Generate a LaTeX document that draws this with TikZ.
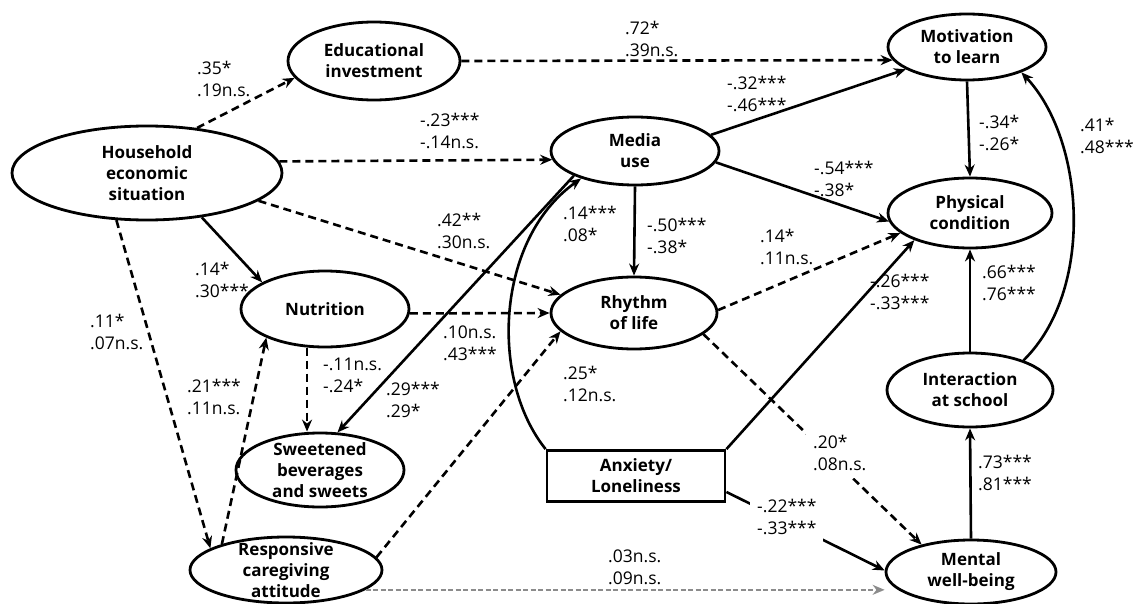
\documentclass[tikz,border=0pt]{standalone}
\usepackage{fontspec}
\setmainfont{Open Sans}
\usetikzlibrary{shapes.geometric,arrows.meta}

\begin{document}
\begin{tikzpicture}[x=1pt,y=-1pt,>={Stealth[length=12pt,width=10pt]}]

    \useasboundingbox (0,0) rectangle (1134,604);

    % Define node styles
    \tikzstyle{factor_block} = [draw, ellipse, line width=2.8pt, inner sep=0pt, align=center, font=\fontsize{17}{21}\selectfont\bfseries]
    \tikzstyle{factor_box} = [draw, rectangle, line width=2.8pt, inner sep=0pt, align=center, font=\fontsize{17}{21}\selectfont\bfseries]
    \tikzstyle{coef} = [inner sep=0pt, align=left, anchor=west, font=\fontsize{17.5}{22}\selectfont]
    \tikzstyle{coef_cut} = [coef, fill=white, inner sep=7pt]
    \tikzstyle{path_sig} = [->, line width=2.6pt]
    \tikzstyle{path_ns} = [->, line width=2.6pt, dash pattern=on 8pt off 5pt]
    \tikzstyle{path_weak} = [->, black!45, line width=1.8pt, dash pattern=on 5pt off 2.5pt]

    % Draw nodes
    \node [factor_block, minimum width=270, minimum height=94] (household_situation) at (147,173) {Household\\economic\\situation};
    \node [factor_block, minimum width=172, minimum height=78] (educational_investment) at (374,61) {Educational\\investment};
    \node [factor_block, minimum width=158, minimum height=66] (motivation_learn) at (967,47) {Motivation\\to learn};
    \node [factor_block, minimum width=168, minimum height=68] (media_use) at (635,151) {Media\\use};
    \node [factor_block, minimum width=164, minimum height=70] (physical_condition) at (970,213) {Physical\\condition};
    \node [factor_block, minimum width=168, minimum height=76] (nutrition) at (325,309) {Nutrition};
    \node [factor_block, minimum width=166, minimum height=72] (rhythm_life) at (634,313) {Rhythm\\of life};
    \node [factor_block, minimum width=168, minimum height=74, inner ysep=-8pt] (sweet_beverages) at (320,470) {Sweetened\\beverages\\and sweets};
    \node [factor_block, minimum width=192, minimum height=66, inner ysep=-10pt] (responsive_attitude) at (286,570) {Responsive\\caregiving\\attitude};
    \node [factor_box, minimum width=178, minimum height=51] (anxiety_loneliness) at (636,476) {Anxiety/\\Loneliness};
    \node [factor_block, minimum width=166, minimum height=74] (school_interaction) at (970,390) {Interaction\\at school};
    \node [factor_block, minimum width=170, minimum height=64] (mental_wellbeing) at (971,572) {Mental\\well-being};

    % Draw arrows
    \draw [path_ns] (household_situation.42) -- (educational_investment.192);
    \draw [path_ns] (educational_investment.east) -- (motivation_learn.190);
    \draw [path_ns] (household_situation.5) -- (media_use.186);
    \draw [path_ns] (household_situation.346) -- (rhythm_life.166);
    \draw [path_sig] (household_situation.321) -- (nutrition.157);
    \draw [path_ns] (household_situation.237) -- (responsive_attitude.164);
    \draw [path_ns] (responsive_attitude.158) -- (nutrition.206);
    \draw [path_ns] (nutrition.245) -- (nutrition.245 |- sweet_beverages.north);
    \draw [path_sig] (media_use.202) -- (sweet_beverages.65);
    \draw [path_sig] (anxiety_loneliness.north west) .. controls (490,380) and (495,240) .. (media_use.207);
    \draw [path_ns] (nutrition.357) -- (rhythm_life.west);
    \draw [path_sig] (media_use.south) -- (rhythm_life.north);
    \draw [path_sig] (media_use.12) -- (motivation_learn.200);
    \draw [path_sig] (media_use.352) -- (physical_condition.186);
    \draw [path_ns] (rhythm_life.2) -- (physical_condition.196);
    \draw [path_sig] (anxiety_loneliness.north east) -- (physical_condition.206);
    \draw [path_ns] (responsive_attitude.8) -- (rhythm_life.194);
    \draw [path_ns] (rhythm_life.343) -- (mental_wellbeing.151);
    \draw [path_sig] (anxiety_loneliness.350) -- (mental_wellbeing.179);
    \draw [path_weak] (responsive_attitude.346) -- (mental_wellbeing.west |- responsive_attitude.346);
    \draw [path_sig] (motivation_learn.south) -- (physical_condition.north);
    \draw [path_sig] (school_interaction.north) -- (physical_condition.south);
    \draw [path_sig] (mental_wellbeing.north) -- (school_interaction.south);
    \draw [path_sig] (school_interaction.29) .. controls (1095,290) and (1085,140) .. (motivation_learn.335);

    % Path coefficients
    \node [coef] (c_he_ei) at (197,79) {.35*\\.19n.s.};
    \node [coef] (c_ei_ml) at (625,39) {.72*\\.39n.s.};
    \node [coef] (c_he_mu) at (420,131) {-.23***\\-.14n.s.};
    \node [coef] (c_he_rl) at (437,231) {.42**\\.30n.s.};
    \node [coef] (c_he_nu) at (195,280) {.14*\\.30***};
    \node [coef] (c_he_ra) at (90,332) {.11*\\.07n.s.};
    \node [coef] (c_ra_nu) at (187,397) {.21***\\.11n.s.};
    \node [coef] (c_nu_sb) at (323,375) {-.11n.s.\\-.24*};
    \node [coef] (c_mu_sb) at (386,400) {.29***\\.29*};
    \node [coef] (c_nu_rl) at (443,343) {.10n.s.\\.43***};
    \node [coef] (c_al_mu) at (563,224) {.14***\\.08*};
    \node [coef] (c_mu_rl) at (647,236) {-.50***\\-.38*};
    \node [coef] (c_mu_ml) at (727,94) {-.32***\\-.46***};
    \node [coef] (c_mu_pc) at (814,179) {-.54***\\-.38*};
    \node [coef] (c_rl_pc) at (760,247) {.14*\\.11n.s.};
    \node [coef] (c_al_pc) at (870,292) {-.26***\\-.33***};
    \node [coef] (c_ra_rl) at (563,384) {.25*\\.12n.s.};
    \node [coef_cut] (c_rl_mw) at (806,453) {.20*\\.08n.s.};
    \node [coef_cut] (c_al_mw) at (750,517) {-.22***\\-.33***};
    \node [coef] (c_ra_mw) at (608,567) {.03n.s.\\.09n.s.};
    \node [coef] (c_ml_pc) at (979,133) {-.34*\\-.26*};
    \node [coef] (c_si_pc) at (982,283) {.66***\\.76***};
    \node [coef] (c_mw_si) at (978,473) {.73***\\.81***};
    \node [coef] (c_si_ml) at (1080,136) {.41*\\.48***};

\end{tikzpicture}
\end{document}
